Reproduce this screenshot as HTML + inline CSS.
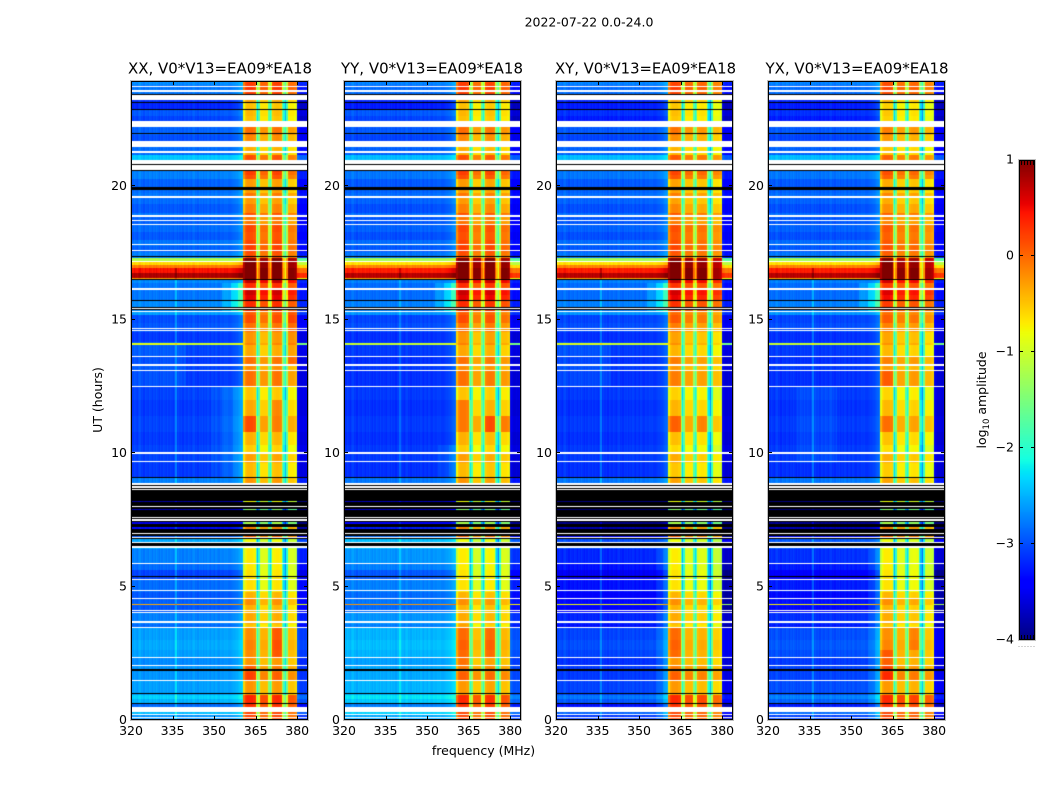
<!DOCTYPE html>
<html lang="en">
<head>
<meta charset="utf-8">
<title>2022-07-22 amplitude waterfall</title>
<style>
html,body{margin:0;padding:0;background:#fff;}
#fig{position:relative;width:1050px;height:800px;overflow:hidden;background:#fff;font-family:"DejaVu Sans","Liberation Sans",sans-serif;color:#000;}
canvas{position:absolute;display:block;}
svg{position:absolute;left:0;top:0;}
svg text{font-family:"DejaVu Sans","Liberation Sans",sans-serif;fill:#000;}
</style>
</head>
<body>
<div id="fig">
<canvas id="hm0"></canvas>
<canvas id="hm1"></canvas>
<canvas id="hm2"></canvas>
<canvas id="hm3"></canvas>
<canvas id="cb"></canvas>
<svg id="ov" width="1050" height="800" viewBox="0 0 1050 800">
  <text x="589" y="26.5" font-size="12.5" text-anchor="middle">2022-07-22 0.0-24.0</text>
  <text x="220" y="73.5" font-size="15.5" textLength="184" lengthAdjust="spacingAndGlyphs" text-anchor="middle">XX, V0*V13=EA09*EA18</text>
  <text x="432" y="73.5" font-size="15.5" textLength="182" lengthAdjust="spacingAndGlyphs" text-anchor="middle">YY, V0*V13=EA09*EA18</text>
  <text x="645.5" y="73.5" font-size="15.5" textLength="181" lengthAdjust="spacingAndGlyphs" text-anchor="middle">XY, V0*V13=EA09*EA18</text>
  <text x="857" y="73.5" font-size="15.5" textLength="183" lengthAdjust="spacingAndGlyphs" text-anchor="middle">YX, V0*V13=EA09*EA18</text>
  <text x="483.5" y="755" font-size="12.5" text-anchor="middle">frequency (MHz)</text>
  <text transform="translate(102,400) rotate(-90)" font-size="12.5" text-anchor="middle">UT (hours)</text>
  <text transform="translate(986,400) rotate(-90)" font-size="12.5" text-anchor="middle">log<tspan font-size="8.5" dy="3">10</tspan><tspan dy="-3"> amplitude</tspan></text>
</svg>
</div>
<script>
// ---- chart data ----
const panelNames = ['xx', 'yy', 'xy', 'yx'];
const xTicks = [320, 335, 350, 365, 380];
const yTicks = [0, 5, 10, 15, 20];
const cbarTicks = [1, 0, -1, -2, -3, -4];

// UT of the top edge of each observed time segment
const segmentTops = [24.00,23.83,23.64,23.28,23.17,22.91,22.68,22.27,21.97,21.52,21.22,20.62,20.47,20.30,19.94,19.79,19.60,19.38,19.04,18.89,18.59,18.33,18.02,17.80,17.57,17.35,17.20,17.08,16.97,16.80,16.60,16.54,16.41,16.15,15.96,15.73,15.36,15.21,14.91,14.57,14.19,14.16,14.10,13.63,13.33,13.11,12.50,12.02,11.42,10.81,10.33,9.99,9.65,9.11,8.90,8.22,8.00,7.50,7.25,6.95,6.80,6.42,5.86,5.63,5.26,4.81,4.54,4.36,4.32,4.02,3.62,3.45,3.00,2.63,2.33,2.05,1.82,1.46,0.94,0.79,0.60,0.49,0.29,0.18];
// log10 amplitude outside the 360-380 MHz band, one per segment
const backgroundLevels = [-2.7,-2.8,-2.8,-3.15,-3.2,-3.1,-3.2,-2.9,-3.0,-2.85,-2.4,-2.75,-2.75,-2.9,-2.85,-2.8,-2.85,-2.95,-2.8,-2.9,-2.85,-2.95,-2.8,-2.9,-2.75,-1.2,-0.6,-0.1,0.45,0.8,-0.3,-2.7,-2.8,-2.8,-2.8,-2.7,-2.6,-3.0,-2.95,-3.1,-3.05,-1.0,-3.05,-3.1,-3.05,-3.1,-3.05,-3.1,-3.05,-3.1,-3.05,-3.05,-3.1,-2.75,-2.8,-3.6,-3.5,-3.3,-3.1,-2.7,-2.3,-2.5,-2.6,-2.8,-2.6,-2.7,-2.65,-0.1,-2.7,-2.5,-2.6,-2.35,-2.3,-2.35,-2.45,-2.4,-2.4,-2.35,-2.1,-2.25,-2.6,-2.4,-2.2,-2.4];
// log10 amplitude inside the 360-380 MHz band, one per segment
const bandLevels = [0.0,0.05,0.0,-0.55,-0.7,-0.65,-0.7,-0.25,-0.4,-0.6,-0.1,0.0,-0.1,-0.5,-0.5,-0.3,-0.5,-0.35,-0.1,-0.3,-0.05,-0.1,-0.05,0.0,-0.1,0.85,0.9,0.9,1.0,1.0,0.9,0.5,0.1,0.45,0.35,0.1,0.0,0.1,-0.1,-0.3,-0.3,-0.2,-0.4,-0.1,-0.25,-0.1,-0.55,-0.4,-0.15,-0.45,-0.6,-0.35,-0.5,-0.3,-0.5,-0.8,-1.4,-1.2,-0.15,0.05,-0.8,-0.7,-0.7,-0.65,-0.65,-0.4,-0.2,-0.2,-0.4,-0.35,-0.5,-0.2,-0.15,-0.2,-0.25,-0.1,0.05,-0.25,0.35,0.35,0.3,0.25,0.2,0.2];

// relative spectrum, one value per 0.5 MHz channel from 320 MHz
const channelOffsets = [0.05,-0.03,0.06,0.0,-0.05,0.04,0.08,-0.02,0.02,-0.06,0.05,0.0,-0.04,0.06,0.02,-0.05,0.03,-0.02,0.07,0.0,-0.06,0.04,-0.03,0.05,0.01,-0.04,0.06,-0.02,0.03,0.0,-0.05,0.04,0.03,-0.04,0.05,-0.02,0.02,-0.06,0.04,0.01,-0.03,0.05,0.0,-0.05,0.03,0.06,-0.03,0.01,-0.05,0.04,0.0,0.05,-0.04,0.02,-0.02,0.05,0.0,-0.05,0.03,0.01,-0.04,0.05,0.0,-0.03,0.04,0.02,0.0,0.05,0.03,0.05,0.0,0.0,0.02,0.04,0.06,0.08,0.1,0.14,0.18,0.22,0.3,
 -0.25,0.0,0.05,0.1,0.1,0.1,0.1,0.05,0.05,-1.0,-1.7,
 -1.0,0.05,0.1,0.1,0.1,0.1,0.05,-0.9,-1.3,
 -0.9,0.05,0.1,0.1,0.12,0.12,0.1,0.05,-1.0,-1.5,-1.9,
 -1.0,0.05,0.1,0.1,0.1,0.1,0.05,-0.1,
 -0.4,-0.45,-0.5,-0.5,-0.45,-0.5,-0.45,-0.5];
const bandLimitsMHz = [360.5, 380];
const subbandStartsMHz = [360.5, 366, 370.5, 376];
const subbandGains = [
  [-0.08,-0.30,-0.12,-0.35],
  [-0.08,-0.35,-0.15,-0.30],
  [-0.10,-0.30,-0.30,-0.45],
  [-0.10,-0.30,-0.25,-0.40]
];
// interfering channel (vertical stripe) in each panel, MHz
const rfiFrequencies = [336, 340, 336, 336];
const rfiBoost = 0.3;
const rfiTopUT = 17;

// per-panel level shift in three UT regions, top edges of each region
const regionTops = [24, 15.5, 9];
const regionBgShift = [
  [0,0,-0.25],
  [-0.05,-0.05,-0.15],
  [-0.05,-0.05,-0.7],
  [-0.05,-0.05,-0.65]
];
const regionBandShift = [
  [0.22,0.05,0],
  [0.22,0.05,-0.02],
  [0.2,0,0],
  [0.15,-0.02,0]
];

// local departures: [panel, first MHz, last MHz, top UT, bottom UT, delta]
const backgroundPatches = [
  [0,353,360.5,16.4,15.3,0.2],[0,356,360.5,16.4,15.3,0.25],[0,358.5,360.5,16.4,15.3,0.3],
  [1,353,360.5,16.4,15.3,0.2],[1,356,360.5,16.4,15.3,0.25],[1,358.5,360.5,16.4,15.3,0.3],
  [2,353,360.5,16.4,15.3,0.2],[2,356,360.5,16.4,15.3,0.25],[2,358.5,360.5,16.4,15.3,0.3],
  [3,353,360.5,16.4,15.3,0.2],[3,356,360.5,16.4,15.3,0.25],[3,358.5,360.5,16.4,15.3,0.3],
  [0,349,360.5,12.5,9.1,0.08],[0,353,360.5,12.5,9.1,0.1],[0,357,360.5,12.5,9.1,0.12],
  [1,354,360.5,10.5,9.1,0.08],[1,358,360.5,10.5,9.1,0.1],
  [2,356,360.5,6.4,0,0.12],[2,358.5,360.5,6.4,0,0.15],
  [3,356,360.5,6.4,0,0.12],[3,358.5,360.5,6.4,0,0.15],
  [0,320,340,14.2,12.5,0.12],[2,320,340,14.2,12.5,0.12],[3,330,345,12.5,9.6,0.1],
  [0,320,360.5,22.9,22.3,0.15],[1,320,360.5,22.9,22.3,0.2]
];
// local departures inside a sub-band: [panel, sub-band, top UT, bottom UT, delta]
const bandPatches = [
  [0,3,15.3,13.3,0.3],[0,0,11.42,10.7,0.25],[0,2,12.0,11.4,0.2],
  [1,0,11.8,11.3,0.25],[1,2,11.42,10.7,0.3],[1,3,11.42,10.8,0.2],
  [2,0,11.42,10.8,0.2],[2,2,11.4,10.8,0.2],[3,0,13.1,12.5,0.2],[3,0,11.42,10.7,0.15],
  [0,2,3.45,2.33,0.3],[0,0,2.05,1.46,0.15],[1,2,3.45,2.33,0.25],[1,0,3.62,2.05,0.2],
  [2,0,3.45,2.33,0.2],[3,0,2.63,1.46,0.3],[3,2,3.45,2.63,0.2]
];

// flagged (blank) and zero-amplitude (black) UT ranges
const blankRanges = [[23.81,23.77],[23.64,23.60],[23.47,23.28],[22.49,22.27],[21.74,21.52],[21.35,21.31],[21.03,20.88],[20.84,20.65],[19.68,19.62],[18.96,18.89],[18.78,18.74],[18.63,18.59],[17.87,17.84],[17.65,17.61],[17.24,17.20],[16.24,16.20],[16.18,16.14],[15.47,15.42],[15.36,15.32],[14.72,14.68],[14.64,14.61],[13.67,13.63],[13.35,13.31],[13.14,13.11],[12.54,12.50],[10.05,9.99],[9.71,9.67],[8.90,8.84],[8.79,8.73],[8.69,8.62],[8.04,7.98],[7.62,7.59],[7.55,7.49],[7.02,6.98],[6.87,6.83],[6.70,6.64],[6.52,6.46],[5.90,5.86],[5.31,5.26],[4.88,4.84],[4.58,4.54],[4.12,4.10],[4.06,4.02],[3.70,3.66],[3.51,3.47],[2.38,2.33],[2.08,2.05],[1.52,1.48],[0.49,0.30],[0.23,0.19],[0.11,0.08],[0.04,0.0]];
const blackRanges = [[23.51,23.47],[23.21,23.17],[22.94,22.91],[22.04,22.00],[20.88,20.84],[20.65,20.62],[20.0,19.92],[17.42,17.39],[16.57,16.52],[15.77,15.73],[15.51,15.47],[15.42,15.38],[9.14,9.11],[8.84,8.79],[8.73,8.69],[8.62,8.22],[8.19,8.04],[7.98,7.94],[7.89,7.62],[7.59,7.55],[7.49,7.42],[7.36,7.23],[7.17,7.02],[6.98,6.91],[6.83,6.78],[6.64,6.52],[5.41,5.37],[1.92,1.83],[1.01,0.96],[0.64,0.60]];

// ---- layout ----
const axesLeft = [131, 344, 556, 768];
const axesWidth = 177;
const axesTop = 81;
const axesBottom = 720;
const pxPerMHz = 2.77;
const pxPerHour = 26.63;
const tickPxPerHour = 26.7;
const cbarBox = {x: 1019, y: 160, w: 16, h: 480};
const cbarMin = -4;
const cbarMax = 1;

function xPos(panel, mhz) { return axesLeft[panel] + (mhz - 320) * pxPerMHz; }
function yPos(ut) { return axesBottom - ut * pxPerHour; }
function yTickPos(ut) { return axesBottom - ut * tickPxPerHour; }
function cbarY(v) { return cbarBox.y + (cbarMax - v) / (cbarMax - cbarMin) * cbarBox.h; }

function piece(t, pts) {
  for (let i = 1; i < pts.length; i++) {
    if (t <= pts[i][0]) {
      const a = pts[i - 1], b = pts[i];
      return a[1] + (b[1] - a[1]) * (t - a[0]) / (b[0] - a[0]);
    }
  }
  return pts[pts.length - 1][1];
}
const jetR = [[0,0],[0.35,0],[0.66,1],[0.89,1],[1,0.5]];
const jetG = [[0,0],[0.125,0],[0.375,1],[0.64,1],[0.91,0],[1,0]];
const jetB = [[0,0.5],[0.11,1],[0.34,1],[0.65,0],[1,0]];
function jet(level) {
  const t = Math.max(0, Math.min(1, (level - cbarMin) / (cbarMax - cbarMin)));
  return 'rgb(' + Math.round(255 * piece(t, jetR)) + ',' + Math.round(255 * piece(t, jetG)) + ',' + Math.round(255 * piece(t, jetB)) + ')';
}
function regionIndex(ut) {
  let r = 0;
  for (let i = 0; i < regionTops.length; i++) { if (ut <= regionTops[i]) r = i; }
  return r;
}
function subbandIndex(mhz) {
  let s = 0;
  for (let i = 0; i < subbandStartsMHz.length; i++) { if (mhz >= subbandStartsMHz[i]) s = i; }
  return s;
}
function backgroundPatchDelta(p, mhz, ut) {
  let d = 0;
  backgroundPatches.forEach(function (q) {
    if (q[0] === p && mhz >= q[1] && mhz < q[2] && ut <= q[3] && ut > q[4]) d += q[5];
  });
  return d;
}
function bandPatchDelta(p, sub, ut) {
  let d = 0;
  bandPatches.forEach(function (q) {
    if (q[0] === p && q[1] === sub && ut <= q[2] && ut > q[3]) d += q[4];
  });
  return d;
}

function drawPanel(p) {
  const c = document.getElementById('hm' + p);
  const left = axesLeft[p];
  c.width = axesWidth;
  c.height = axesBottom - axesTop;
  c.style.left = left + 'px';
  c.style.top = axesTop + 'px';
  const g = c.getContext('2d');
  g.fillStyle = '#fff';
  g.fillRect(0, 0, c.width, c.height);
  for (let s = 0; s < segmentTops.length; s++) {
    const top = segmentTops[s];
    const bot = s + 1 < segmentTops.length ? segmentTops[s + 1] : 0;
    const mid = (top + bot) / 2;
    const y0 = Math.round(yPos(top)) - axesTop;
    const y1 = Math.round(yPos(bot)) - axesTop;
    const r = regionIndex(top - 0.001);
    for (let ch = 0; ch < channelOffsets.length; ch++) {
      const mhz = 320 + ch * 0.5;
      const x0 = Math.round(xPos(p, mhz)) - left;
      const x1 = Math.round(xPos(p, mhz + 0.5)) - left;
      let level;
      if (mhz >= bandLimitsMHz[0] && mhz < bandLimitsMHz[1]) {
        const sub = subbandIndex(mhz);
        level = bandLevels[s] + regionBandShift[p][r] + channelOffsets[ch] + subbandGains[p][sub] + bandPatchDelta(p, sub, mid);
      } else {
        level = backgroundLevels[s] + regionBgShift[p][r] + channelOffsets[ch] + backgroundPatchDelta(p, mhz, mid);
        if (mhz === rfiFrequencies[p] && top <= rfiTopUT) level += rfiBoost;
      }
      g.fillStyle = jet(level);
      g.fillRect(x0, y0, x1 - x0, y1 - y0);
    }
  }
  g.fillStyle = '#fff';
  blankRanges.forEach(function (b) {
    const y0 = Math.round(yPos(b[0])) - axesTop;
    const y1 = Math.round(yPos(b[1])) - axesTop;
    g.fillRect(0, y0, c.width, Math.max(1, y1 - y0));
  });
  g.fillStyle = '#000';
  blackRanges.forEach(function (b) {
    const y0 = Math.round(yPos(b[0])) - axesTop;
    const y1 = Math.round(yPos(b[1])) - axesTop;
    g.fillRect(0, y0, c.width, Math.max(1, y1 - y0));
  });
}

function drawColorbar() {
  const c = document.getElementById('cb');
  c.width = cbarBox.w;
  c.height = cbarBox.h;
  c.style.left = cbarBox.x + 'px';
  c.style.top = cbarBox.y + 'px';
  const g = c.getContext('2d');
  for (let y = 0; y < cbarBox.h; y++) {
    g.fillStyle = jet(cbarMax - (y + 0.5) / cbarBox.h * (cbarMax - cbarMin));
    g.fillRect(0, y, cbarBox.w, 1);
  }
}

const svgNS = 'http://www.w3.org/2000/svg';
const ov = document.getElementById('ov');
function line(x1, y1, x2, y2, stroke) {
  const l = document.createElementNS(svgNS, 'line');
  l.setAttribute('x1', x1);
  l.setAttribute('y1', y1);
  l.setAttribute('x2', x2);
  l.setAttribute('y2', y2);
  l.setAttribute('stroke', stroke);
  l.setAttribute('stroke-width', 1);
  l.setAttribute('shape-rendering', 'crispEdges');
  ov.appendChild(l);
  return l;
}
function label(x, y, str, anchor) {
  const t = document.createElementNS(svgNS, 'text');
  t.setAttribute('x', x);
  t.setAttribute('y', y);
  t.setAttribute('font-size', 12.5);
  t.setAttribute('text-anchor', anchor);
  t.textContent = str;
  ov.appendChild(t);
  return t;
}
function frame(x, y, w, h, name) {
  const o = document.createElementNS(svgNS, 'rect');
  o.setAttribute('x', x - 0.5);
  o.setAttribute('y', y - 0.5);
  o.setAttribute('width', w + 1);
  o.setAttribute('height', h + 1);
  o.setAttribute('fill', 'none');
  o.setAttribute('stroke', '#bfbfbf');
  o.setAttribute('stroke-width', 1);
  o.setAttribute('shape-rendering', 'crispEdges');
  ov.appendChild(o);
  const r = document.createElementNS(svgNS, 'rect');
  r.setAttribute('x', x + 0.5);
  r.setAttribute('y', y + 0.5);
  r.setAttribute('width', w - 1);
  r.setAttribute('height', h - 1);
  r.setAttribute('fill', 'none');
  r.setAttribute('stroke', '#000');
  r.setAttribute('stroke-width', 1);
  r.setAttribute('shape-rendering', 'crispEdges');
  
  
  ov.appendChild(r);
}

function drawAxes(p) {
  frame(axesLeft[p], axesTop, axesWidth, axesBottom - axesTop, 'axes-frame-' + panelNames[p]);
  xTicks.forEach(function (v) {
    const x = Math.round(xPos(p, v)) + 0.5;
    const tb = line(x, axesBottom, x, axesBottom - 4, '#000');
    
    
    const tt = line(x, axesTop, x, axesTop + 4, '#000');
    
    
    const lb = label(xPos(p, v), 735, String(v), 'middle');
    
    
  });
  yTicks.forEach(function (v) {
    const y = Math.round(yTickPos(v)) - 0.5;
    const tl = line(axesLeft[p], y, axesLeft[p] + 4, y, '#000');
    
    
    const tr = line(axesLeft[p] + axesWidth, y, axesLeft[p] + axesWidth - 4, y, '#000');
    
    
    const lb = label(axesLeft[p] - 4, yTickPos(v) + 4, String(v), 'end');
    
    
  });
}

function drawColorbarAxes() {
  frame(cbarBox.x, cbarBox.y, cbarBox.w, cbarBox.h, 'colorbar-frame');
  cbarTicks.forEach(function (v) {
    const y = Math.round(cbarY(v)) - 0.5;
    if (v < cbarMax && v > cbarMin) {
      const a = line(cbarBox.x, y, cbarBox.x + 4, y, '#000');
      
      
      const b = line(cbarBox.x + cbarBox.w, y, cbarBox.x + cbarBox.w - 4, y, '#000');
      
      
    }
    const t = label(cbarBox.x - 5, cbarY(v) + 3.5, String(v).replace('-', '\u2212'), 'end');
    
    
  });
  for (let i = 0; i < 5; i++) {
    const x = cbarBox.x + 2.5 + i * 3;
    const a = line(x, cbarBox.y, x, cbarBox.y + 5, '#000');
    
    
    const b = line(x, cbarBox.y + cbarBox.h, x, cbarBox.y + cbarBox.h - 5, '#000');
    
    
  }
  for (let i = 0; i < 6; i++) {
    const x = cbarBox.x - 0.5 + i * 3;
    const d = line(x, 646.5, x + 1, 646.5, '#aaa');
    
    
  }
}

for (let p = 0; p < panelNames.length; p++) {
  drawPanel(p);
  drawAxes(p);
}
drawColorbar();
drawColorbarAxes();
</script>
</body>
</html>
